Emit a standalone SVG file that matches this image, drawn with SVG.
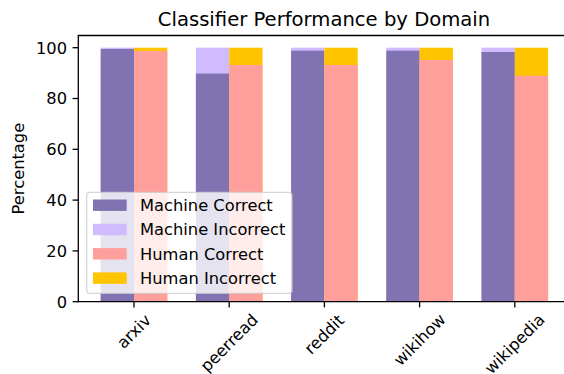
<svg xmlns="http://www.w3.org/2000/svg" width="564" height="374" viewBox="0 0 564 374">
  <style>
    text { font-family: "DejaVu Sans", "Liberation Sans", sans-serif; fill: #000; }
    .title { font-size: 19.6px; text-anchor: middle; }
    .tick { font-size: 16.3px; }
    .ytick { text-anchor: end; }
    .xtick { text-anchor: middle; dominant-baseline: central; }
    .legend-text { font-size: 16.3px; }
    .mc { fill: #8172B2; }
    .mi { fill: #D0BBFF; }
    .hc { fill: #FF9F9B; }
    .hi { fill: #FFC400; }
    .spine { stroke: #000; stroke-width: 1.3; fill: none; stroke-linecap: square; }
    .tickmark { stroke: #000; stroke-width: 1.3; }
  </style>

  <rect width="564" height="374" fill="#fff"/>

  <text class="title" x="324" y="26">Classifier Performance by Domain</text>

  <!-- stacked bars per domain: machine (left) and human (right) -->
  <g id="bars-arxiv">
    <rect class="mi" x="100.7" y="47.7" width="33.3" height="254"/>
    <rect class="mc" x="100.7" y="49.0" width="33.3" height="252.7"/>
    <rect class="hi" x="134" y="47.7" width="33.3" height="254"/>
    <rect class="hc" x="134" y="51.0" width="33.3" height="250.7"/>
  </g>
  <g id="bars-peerread">
    <rect class="mi" x="195.9" y="47.7" width="33.3" height="254"/>
    <rect class="mc" x="195.9" y="73.6" width="33.3" height="228.1"/>
    <rect class="hi" x="229.2" y="47.7" width="33.3" height="254"/>
    <rect class="hc" x="229.2" y="65.0" width="33.3" height="236.7"/>
  </g>
  <g id="bars-reddit">
    <rect class="mi" x="291.1" y="47.7" width="33.3" height="254"/>
    <rect class="mc" x="291.1" y="50.7" width="33.3" height="251"/>
    <rect class="hi" x="324.4" y="47.7" width="33.3" height="254"/>
    <rect class="hc" x="324.4" y="65.0" width="33.3" height="236.7"/>
  </g>
  <g id="bars-wikihow">
    <rect class="mi" x="386.3" y="47.7" width="33.3" height="254"/>
    <rect class="mc" x="386.3" y="50.7" width="33.3" height="251"/>
    <rect class="hi" x="419.6" y="47.7" width="33.3" height="254"/>
    <rect class="hc" x="419.6" y="60.0" width="33.3" height="241.7"/>
  </g>
  <g id="bars-wikipedia">
    <rect class="mi" x="481.5" y="47.7" width="33.3" height="254"/>
    <rect class="mc" x="481.5" y="52.0" width="33.3" height="249.7"/>
    <rect class="hi" x="514.8" y="47.7" width="33.3" height="254"/>
    <rect class="hc" x="514.8" y="75.7" width="33.3" height="226"/>
  </g>

  <!-- axes frame -->
  <g id="axes">
    <path class="spine" d="M78.3,301.7 L78.3,35.5 L572,35.5"/>
    <path class="spine" d="M78.3,301.7 L572,301.7"/>

    <!-- y ticks -->
    <g class="tickmark">
      <line x1="72.6" y1="301.7" x2="78.3" y2="301.7"/>
      <line x1="72.6" y1="250.9" x2="78.3" y2="250.9"/>
      <line x1="72.6" y1="200.1" x2="78.3" y2="200.1"/>
      <line x1="72.6" y1="149.3" x2="78.3" y2="149.3"/>
      <line x1="72.6" y1="98.5" x2="78.3" y2="98.5"/>
      <line x1="72.6" y1="47.7" x2="78.3" y2="47.7"/>
    </g>
    <text class="tick ytick" x="67" y="307.6">0</text>
    <text class="tick ytick" x="67" y="256.8">20</text>
    <text class="tick ytick" x="67" y="206.0">40</text>
    <text class="tick ytick" x="67" y="155.2">60</text>
    <text class="tick ytick" x="67" y="104.4">80</text>
    <text class="tick ytick" x="67" y="53.6">100</text>

    <!-- x ticks -->
    <g class="tickmark">
      <line x1="134" y1="301.7" x2="134" y2="307.4"/>
      <line x1="229.2" y1="301.7" x2="229.2" y2="307.4"/>
      <line x1="324.4" y1="301.7" x2="324.4" y2="307.4"/>
      <line x1="419.6" y1="301.7" x2="419.6" y2="307.4"/>
      <line x1="514.8" y1="301.7" x2="514.8" y2="307.4"/>
    </g>
    <text class="tick xtick" transform="translate(134,331.5) rotate(-45)">arxiv</text>
    <text class="tick xtick" transform="translate(229.2,343) rotate(-45)">peerread</text>
    <text class="tick xtick" transform="translate(324.4,334.5) rotate(-45)">reddit</text>
    <text class="tick xtick" transform="translate(419.6,339.8) rotate(-45)">wikihow</text>
    <text class="tick xtick" transform="translate(514.8,344) rotate(-45)">wikipedia</text>

    <text class="tick" text-anchor="middle" transform="translate(23.5,168.6) rotate(-90)">Percentage</text>
  </g>

  <!-- legend -->
  <g id="legend">
    <rect x="86.7" y="192.3" width="205.3" height="101" rx="3.3" ry="3.3" fill="#fff" fill-opacity="0.8" stroke="#cccccc" stroke-opacity="0.8" stroke-width="1.3"/>
    <rect class="mc" x="93" y="199.5" width="33.7" height="11.4"/>
    <rect class="mi" x="93" y="223.8" width="33.7" height="11.4"/>
    <rect class="hc" x="93" y="248.1" width="33.7" height="11.4"/>
    <rect class="hi" x="93" y="272.4" width="33.7" height="11.4"/>
    <text class="legend-text" x="140" y="211.1">Machine Correct</text>
    <text class="legend-text" x="140" y="235.4">Machine Incorrect</text>
    <text class="legend-text" x="140" y="259.7">Human Correct</text>
    <text class="legend-text" x="140" y="284.0">Human Incorrect</text>
  </g>
</svg>
